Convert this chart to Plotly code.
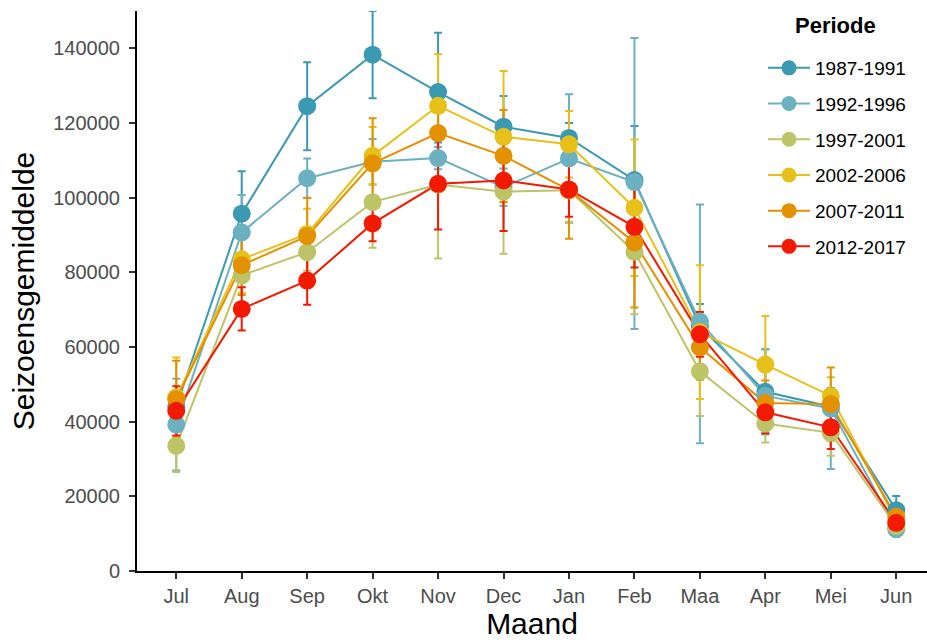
import plotly.graph_objects as go

# Months of the season (July to June)
months = ["Jul", "Aug", "Sep", "Okt", "Nov", "Dec", "Jan", "Feb", "Maa", "Apr", "Mei", "Jun"]

periods = ["1987-1991", "1992-1996", "1997-2001", "2002-2006", "2007-2011", "2012-2017"]
colors = ["#3B9AB2", "#6CB1C1", "#BDC468", "#E7C019", "#E49100", "#F21A00"]

# Seasonal means per period
mean_1987 = [44000, 95700, 124500, 138300, 128300, 119000, 116000, 104700, 65500, 48000, 44000, 16300]
mean_1992 = [39200, 90700, 105200, 109600, 110600, 102800, 110500, 104200, 66800, 46900, 43500, 11200]
mean_1997 = [33500, 79200, 85400, 98800, 103500, 101600, 102000, 85500, 53500, 39500, 37000, 12000]
mean_2002 = [46500, 83500, 90300, 111200, 124600, 116300, 114300, 97300, 64000, 55300, 46900, 13500]
mean_2007 = [46000, 81900, 89700, 109200, 117300, 111200, 102000, 88000, 59900, 45000, 44700, 14500]
mean_2012 = [42900, 70200, 77800, 93100, 103700, 104600, 102200, 92200, 63400, 42500, 38500, 12900]

# Upper / lower error margins per period
up_1987 = [4000, 11400, 11800, 11700, 15900, 8200, 4000, 14500, 6000, 11400, 5000, 3800]
lo_1987 = [4000, 11400, 11800, 11700, 13500, 8200, 4000, 14500, 6000, 11400, 5000, 3800]
up_1992 = [12300, 10000, 5300, 6100, 3000, 5000, 17200, 38600, 31400, 12500, 5000, 2000]
lo_1992 = [12300, 10000, 5300, 6100, 3000, 5000, 17200, 39400, 32600, 9000, 16200, 2000]
up_1997 = [6700, 5000, 5000, 12200, 20000, 16500, 8500, 16700, 12000, 5100, 6100, 2000]
lo_1997 = [7000, 5000, 5000, 12200, 19800, 16600, 8500, 16700, 12000, 5100, 6100, 2000]
up_2002 = [10700, 9000, 6700, 7700, 13800, 17600, 8900, 18300, 17900, 13000, 5000, 2000]
lo_2002 = [10700, 9000, 6700, 7700, 13800, 17600, 8900, 18300, 17900, 13000, 5000, 2000]
up_2007 = [10300, 8000, 10300, 12100, 6000, 12300, 13000, 17400, 8700, 6000, 9800, 2000]
lo_2007 = [10300, 8000, 10300, 12100, 6000, 12300, 13000, 17400, 8700, 6000, 9800, 2000]
up_2012 = [6600, 5800, 6500, 4800, 12200, 13500, 7300, 10900, 6000, 5600, 5800, 1500]
lo_2012 = [6600, 5800, 6500, 4800, 12200, 13500, 7300, 10900, 6000, 5600, 5800, 1500]

means = [mean_1987, mean_1992, mean_1997, mean_2002, mean_2007, mean_2012]
ups = [up_1987, up_1992, up_1997, up_2002, up_2007, up_2012]
los = [lo_1987, lo_1992, lo_1997, lo_2002, lo_2007, lo_2012]

FONT = "Liberation Sans, Arial, sans-serif"
fig = go.Figure()

# Layer 1: error bars and connecting lines
for name, col, y, u, l in zip(periods, colors, means, ups, los):
    fig.add_trace(go.Scatter(
        x=months, y=y, mode="lines", name=name, showlegend=False,
        line=dict(color=col, width=2),
        error_y=dict(type="data", array=u, arrayminus=l, symmetric=False,
                     color=col, thickness=2, width=4),
        hoverinfo="skip",
    ))

# Layer 2: points on top
for name, col, y in zip(periods, colors, means):
    fig.add_trace(go.Scatter(
        x=months, y=y, mode="markers", name=name, showlegend=False,
        marker=dict(color=col, size=18),
    ))

# Legend entries (line + point key)
for i, (name, col) in enumerate(zip(periods, colors)):
    fig.add_trace(go.Scatter(
        x=[None], y=[None], mode="lines+markers", name=name,
        legendgroup=f"g{i}",
        line=dict(color=col, width=2), marker=dict(color=col, size=15),
    ))

# Legend heading
fig.add_annotation(
    text="<b>Periode</b>", xref="paper", yref="paper",
    x=(835 - 137) / 790, y=(571 - 25) / 560, xanchor="center", yanchor="middle",
    showarrow=False, font=dict(size=22, family=FONT, color="black"),
)

fig.update_layout(
    width=927, height=642,
    margin=dict(l=137, r=0, t=11, b=71),
    paper_bgcolor="white", plot_bgcolor="white",
    font=dict(family=FONT, color="black"),
    legend=dict(
        font=dict(size=19, family=FONT),
        x=(763 - 137) / 790, xanchor="left", y=(571 - 49) / 560, yanchor="top",
        traceorder="grouped", tracegroupgap=8, itemwidth=42,
        bgcolor="rgba(0,0,0,0)", borderwidth=0,
    ),
    xaxis=dict(
        type="category", categoryorder="array", categoryarray=months,
        range=[-0.6, 11.47],
        showline=True, linecolor="black", linewidth=2,
        ticks="outside", ticklen=6, tickwidth=1.5, tickcolor="#333333",
        tickfont=dict(size=20, color="#4D4D4D"),
        showgrid=False, zeroline=False,
        title=dict(text="Maand", font=dict(size=30, color="black"), standoff=6),
    ),
    yaxis=dict(
        range=[0, 150000],
        tickvals=[0, 20000, 40000, 60000, 80000, 100000, 120000, 140000],
        ticktext=["0", "20000", "40000", "60000", "80000", "100000", "120000", "140000"],
        showline=True, linecolor="black", linewidth=2,
        ticks="outside", ticklen=6, tickwidth=1.5, tickcolor="#333333",
        tickfont=dict(size=20, color="#4D4D4D"), ticklabelstandoff=5,
        showgrid=False, zeroline=False,
        title=dict(text="Seizoensgemiddelde", font=dict(size=30, color="black"), standoff=10),
    ),
)

fig.write_html("out.html")
